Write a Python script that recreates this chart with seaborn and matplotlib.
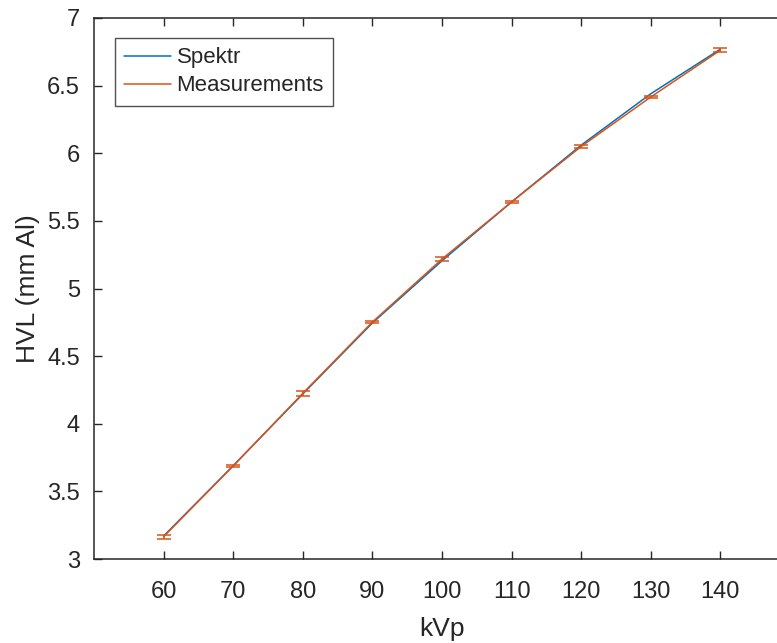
import matplotlib
matplotlib.use("Agg")
import matplotlib.pyplot as plt
import seaborn as sns
import pandas as pd
from matplotlib.lines import Line2D

kvp = [60, 70, 80, 90, 100, 110, 120, 130, 140]
spektr_hvl = [3.17, 3.69, 4.22, 4.745, 5.205, 5.64, 6.06, 6.44, 6.77]
meas_hvl = [3.165, 3.688, 4.225, 4.752, 5.218, 5.64, 6.05, 6.416, 6.762]
meas_err = [0.015, 0.01, 0.017, 0.008, 0.012, 0.009, 0.008, 0.01, 0.013]
x_ticks = [60, 70, 80, 90, 100, 110, 120, 130, 140]
y_ticks = [3, 3.5, 4, 4.5, 5, 5.5, 6, 6.5, 7]
y_tick_labels = ["3", "3.5", "4", "4.5", "5", "5.5", "6", "6.5", "7"]

sns.set_theme(style="white")
plt.rcParams['font.family'] = ['Liberation Sans', 'DejaVu Sans']

TXT = "#262626"
BLUE = "#0072BD"
ORANGE = "#D95319"

fig = plt.figure(figsize=(7.77, 6.43), dpi=100)
ax = fig.add_axes([94 / 777, (643 - 559) / 643, (790 - 94) / 777, (559 - 18) / 643])

df = pd.DataFrame({"kVp": kvp * 2,
                   "HVL": spektr_hvl + meas_hvl,
                   "src": ["Spektr"] * len(kvp) + ["Measurements"] * len(kvp)})
sns.lineplot(data=df, x="kVp", y="HVL", hue="src",
             palette={"Spektr": BLUE, "Measurements": ORANGE},
             linewidth=1.1, ax=ax, legend=False)
ax.errorbar(kvp, meas_hvl, yerr=meas_err, fmt="none", ecolor=ORANGE,
            elinewidth=1.1, capsize=5, capthick=1.1)

ax.set_xlim(50, 150)
ax.set_ylim(3, 7)
ax.set_xticks(x_ticks)
ax.set_yticks(y_ticks)
ax.set_yticklabels(y_tick_labels)
ax.set_xlabel("kVp", fontsize=19, color=TXT, labelpad=10)
ax.set_ylabel("HVL (mm Al)", fontsize=19, color=TXT, labelpad=5)
ax.tick_params(direction="in", length=6, width=1, colors=TXT, labelsize=17,
               top=True, right=True, bottom=True, left=True)
ax.tick_params(axis="x", pad=16)
ax.tick_params(axis="y", pad=10)
for s in ax.spines.values():
    s.set_color(TXT)
    s.set_linewidth(1.1)
    s.set_visible(True)

handles = [Line2D([0], [0], color=BLUE, lw=1.1), Line2D([0], [0], color=ORANGE, lw=1.1)]
leg = ax.legend(handles, ["Spektr", "Measurements"], loc="upper left",
                bbox_to_anchor=((115 - 94) / 696, 1 - (38 - 18) / 541),
                fontsize=16, frameon=True, fancybox=False, handlelength=2.1,
                handletextpad=0.25, borderpad=0.42, labelspacing=0.32,
                borderaxespad=0)
leg.get_frame().set_edgecolor(TXT)
leg.get_frame().set_linewidth(1.0)
for t in leg.get_texts():
    t.set_color(TXT)

fig.savefig("out.png", dpi=100)
